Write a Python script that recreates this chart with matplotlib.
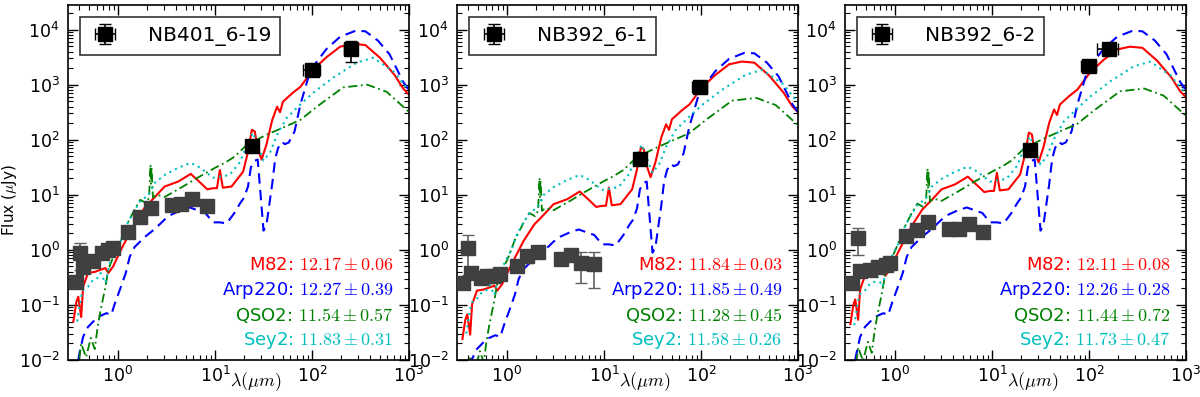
import numpy as np
import matplotlib
matplotlib.use("Agg")
import matplotlib.pyplot as plt

plt.rcParams["font.family"] = ["DejaVu Sans"]
plt.rcParams["mathtext.fontset"] = "cm"

m82_loglam = [-0.46, -0.43, -0.41, -0.38, -0.36, -0.31, -0.24, -0.13, -0.10, -0.05, 0.03, 0.10, 0.17,
              0.28, 0.38, 0.48, 0.62, 0.75, 0.83, 0.92, 0.98, 1.02, 1.05, 1.08, 1.17, 1.29, 1.34, 1.38,
              1.41, 1.44, 1.48, 1.53, 1.59, 1.64, 1.67, 1.70, 1.80, 1.88, 2.01, 2.15, 2.29, 2.42, 2.55,
              2.70, 2.85, 2.94, 3.0]
m82_logf = [-1.30, -0.95, -0.85, -1.22, -0.67, -0.42, -0.40, -0.33, -0.42, -0.30, 0.00, 0.24, 0.48,
            0.78, 0.96, 1.15, 1.24, 1.38, 1.25, 1.10, 1.12, 1.12, 1.45, 1.13, 1.15, 1.42, 1.78, 2.18,
            2.15, 1.85, 1.64, 1.91, 2.36, 2.60, 2.50, 2.69, 2.85, 2.96, 3.27, 3.50, 3.69, 3.74, 3.72,
            3.49, 3.18, 2.93, 2.82]

arp_loglam = [-0.44, -0.40, -0.36, -0.31, -0.21, -0.12, -0.07, -0.03, 0.03, 0.08, 0.12, 0.17, 0.28,
              0.38, 0.48, 0.55, 0.65, 0.74, 0.82, 0.90, 0.98, 1.05, 1.12, 1.20, 1.26, 1.30, 1.34, 1.37,
              1.41, 1.44, 1.47, 1.50, 1.53, 1.55, 1.59, 1.62, 1.65, 1.69, 1.72, 1.76, 1.82, 1.88, 1.98,
              2.05, 2.15, 2.29, 2.45, 2.55, 2.68, 2.80, 2.94, 3.0]
arp_logf = [-2.30, -1.90, -1.58, -1.40, -1.22, -1.15, -1.18, -0.96, -0.67, -0.42, -0.13, 0.05, 0.24,
            0.38, 0.55, 0.64, 0.72, 0.77, 0.72, 0.67, 0.50, 0.50, 0.48, 0.67, 0.85, 0.95, 1.15, 1.50,
            1.62, 1.64, 1.00, 0.35, 0.45, 0.70, 1.20, 1.65, 1.85, 1.96, 1.92, 1.95, 2.15, 2.64, 3.24,
            3.42, 3.65, 3.87, 3.98, 3.97, 3.80, 3.55, 3.05, 2.90]

qso_loglam = [-0.42, -0.38, -0.33, -0.28, -0.24, -0.21, -0.18, -0.13, -0.10, -0.05, 0.00, 0.03, 0.08,
              0.17, 0.23, 0.29, 0.32, 0.335, 0.34, 0.345, 0.36, 0.40, 0.48, 0.65, 0.82, 1.00, 1.10, 1.20,
              1.33, 1.53, 1.70, 1.88, 2.05, 2.32, 2.57, 2.77, 2.94, 3.0]
qso_logf = [-2.30, -1.70, -1.95, -1.60, -1.80, -1.40, -1.10, -0.67, -0.36, -0.13, 0.05, 0.18, 0.42,
            0.73, 0.91, 0.85, 0.95, 1.55, 1.20, 1.50, 0.95, 1.00, 0.96, 1.13, 1.31, 1.49, 1.58, 1.69,
            1.91, 2.09, 2.22, 2.36, 2.60, 2.95, 3.00, 2.87, 2.60, 2.50]

sey_loglam = [-0.42, -0.38, -0.36, -0.31, -0.26, -0.21, -0.18, -0.13, -0.08, -0.02, 0.05, 0.10, 0.17,
              0.24, 0.31, 0.38, 0.48, 0.62, 0.75, 0.85, 0.98, 1.15, 1.26, 1.33, 1.39, 1.45, 1.50, 1.57,
              1.64, 1.74, 1.88, 2.01, 2.22, 2.46, 2.63, 2.84, 2.97, 3.0]
sey_logf = [-1.30, -0.85, -0.73, -0.67, -0.55, -0.51, -0.42, -0.60, -0.21, 0.00, 0.24, 0.49, 0.72,
            0.91, 0.98, 1.22, 1.36, 1.49, 1.58, 1.49, 1.31, 1.36, 1.60, 1.91, 2.13, 1.85, 1.62, 1.78,
            2.09, 2.40, 2.64, 2.85, 3.13, 3.40, 3.49, 3.24, 2.96, 2.90]

# per-panel normalisation of each template (dex)
m82_norm = [0.0, -0.32, -0.05]
arp_norm = [0.0, -0.40, 0.0]
qso_norm = [0.0, -0.24, -0.07]
sey_norm = [0.0, -0.22, -0.07]

names = ["NB401_6-19", "NB392_6-1", "NB392_6-2"]

# optical / NIR photometry (grey)
opt_lam = [[0.37, 0.41, 0.44, 0.55, 0.68, 0.79, 0.89, 1.26, 1.7, 2.2, 3.6, 4.5, 5.8, 8.3],
           [0.35, 0.40, 0.43, 0.54, 0.62, 0.74, 0.85, 1.26, 1.6, 2.1, 3.6, 4.6, 5.8, 7.8],
           [0.36, 0.42, 0.44, 0.55, 0.66, 0.81, 0.89, 1.3, 1.67, 2.2, 3.6, 4.6, 5.8, 8.0]]
opt_flux = [[0.26, 0.89, 0.49, 0.63, 0.89, 1.0, 1.1, 2.1, 4.0, 5.8, 6.6, 6.9, 8.5, 6.3],
            [0.25, 1.1, 0.38, 0.31, 0.34, 0.34, 0.36, 0.5, 0.77, 0.92, 0.69, 0.81, 0.58, 0.55],
            [0.25, 1.65, 0.42, 0.43, 0.49, 0.53, 0.57, 1.8, 2.3, 3.2, 2.4, 2.4, 2.9, 2.1]]
opt_err = [[0.02, 0.46, 0.04, 0.04, 0.05, 0.05, 0.06, 0.15, 0.3, 0.4, 0.4, 0.5, 0.6, 0.6],
           [0.02, 0.75, 0.04, 0.03, 0.03, 0.03, 0.04, 0.10, 0.2, 0.1, 0.08, 0.08, 0.33, 0.35],
           [0.02, 0.85, 0.04, 0.04, 0.05, 0.05, 0.05, 0.15, 0.2, 0.3, 0.2, 0.2, 0.3, 0.3]]

# mid/far-IR photometry (black)
ir_lam = [[24, 100, 250], [23.5, 98], [24.5, 100, 160]]
ir_flux = [[78, 1850, 4400], [44, 900], [66, 2200, 4500]]
ir_ferr = [[8, 300, 1800], [5, 150], [7, 350, 800]]
ir_lerr = [[2, 20, 38], [2, 18], [2, 18, 40]]

fit_labels = ["M82", "Arp220", "QSO2", "Sey2"]
fit_values = [["12.17", "12.27", "11.54", "11.83"],
              ["11.84", "11.85", "11.28", "11.58"],
              ["12.11", "12.26", "11.44", "11.73"]]
fit_errors = [["0.06", "0.39", "0.57", "0.31"],
              ["0.03", "0.49", "0.45", "0.26"],
              ["0.08", "0.28", "0.72", "0.47"]]

colors = ["#ff0000", "#0000ff", "#008000", "#00bfbf"]

fig = plt.figure(figsize=(12, 3.97), dpi=100)
W, H = 1200.0, 397.0
lefts_px = [68, 457, 845]
templates = [(m82_loglam, m82_logf, m82_norm, "-", 1.5),
             (arp_loglam, arp_logf, arp_norm, (0, (5, 3)), 1.5),
             (qso_loglam, qso_logf, qso_norm, (0, (5, 2, 1, 2)), 1.3),
             (sey_loglam, sey_logf, sey_norm, (0, (1, 2)), 1.5)]

for i in range(3):
    ax = fig.add_axes([lefts_px[i] / W, 1 - 360 / H, 341 / W, 355 / H])
    ax.set_xscale("log")
    ax.set_yscale("log")
    for (ll, lf, nrm, ls, lw), c in zip(templates, colors):
        lam = 10 ** np.asarray(ll)
        f = 10 ** (np.asarray(lf) + nrm[i])
        ax.plot(lam, f, color=c, ls=ls, lw=lw)
    ax.errorbar(opt_lam[i], opt_flux[i], yerr=opt_err[i], fmt="s", color="#404040",
                ms=10, mec="#404040", ecolor="#606060", elinewidth=1.2, capsize=4, zorder=5)
    ax.errorbar(ir_lam[i], ir_flux[i], yerr=ir_ferr[i], xerr=ir_lerr[i], fmt="s", color="black",
                ms=10, ecolor="black", elinewidth=1.2, capsize=4, zorder=6, label=names[i])
    ax.set_xlim(0.305, 1000)
    ax.set_ylim(1e-2, 2.8e4)
    leg = ax.legend(loc="upper left", numpoints=1, fontsize=14.5, fancybox=False,
                    handlelength=1.6, handletextpad=1.3, borderpad=0.45, borderaxespad=0.6)
    leg.get_frame().set_edgecolor("black")
    leg.get_frame().set_linewidth(1.2)
    for k in range(4):
        ax.text(0.955, 0.267 - k * 0.0705,
                f"{fit_labels[k]}: ${fit_values[i][k]}\\pm{fit_errors[i][k]}$",
                transform=ax.transAxes, ha="right", va="center", color=colors[k], fontsize=13)
    ax.text(0.55, -0.062, r"$\lambda(\mu m)$", transform=ax.transAxes, ha="center", va="center",
            fontsize=13)
    ax.tick_params(which="both", direction="in", top=True, right=True, labelsize=12.5)
    ax.tick_params(which="major", length=7, width=1, pad=6)
    ax.tick_params(axis="x", which="major", pad=4.5)
    ax.tick_params(which="minor", length=3.5, width=0.8)
    for s in ax.spines.values():
        s.set_linewidth(1.2)
    if i == 0:
        ax.set_ylabel(r"Flux ($\mu$Jy)", fontsize=11)
        ax.yaxis.set_label_coords(-0.145, 0.45)

fig.savefig("out.png", dpi=100)
